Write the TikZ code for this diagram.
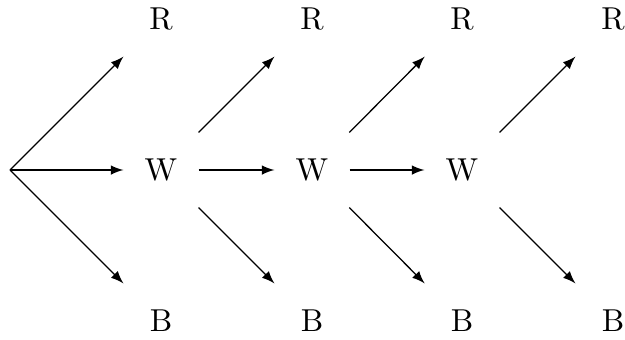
\documentclass[tikz,border=0pt]{standalone}
\begin{document}
\begin{tikzpicture}[x=0.3155pt,y=-0.3155pt,
  lbl/.style={rectangle,minimum size=23.7pt,inner sep=0pt,outer sep=0pt},
  conn/.style={-latex,line width=0.4pt}]
\useasboundingbox (0,0) rectangle (625,339);
\coordinate (S) at (10,170);
\node[lbl] (R1) at (161,19) {R};
\node[lbl] (W1) at (161,170) {W};
\node[lbl] (B1) at (161,321) {B};
\node[lbl] (R2) at (312,19) {R};
\node[lbl] (W2) at (312,170) {W};
\node[lbl] (B2) at (312,321) {B};
\node[lbl] (R3) at (462,19) {R};
\node[lbl] (W3) at (462,170) {W};
\node[lbl] (B3) at (462,321) {B};
\node[lbl] (R4) at (613,19) {R};
\node[lbl] (B4) at (613,321) {B};
\draw[conn] (S) -- (R1);
\draw[conn] (S) -- (W1);
\draw[conn] (S) -- (B1);
\draw[conn] (W1) -- (R2);
\draw[conn] (W1) -- (W2);
\draw[conn] (W1) -- (B2);
\draw[conn] (W2) -- (R3);
\draw[conn] (W2) -- (W3);
\draw[conn] (W2) -- (B3);
\draw[conn] (W3) -- (R4);
\draw[conn] (W3) -- (B4);
\end{tikzpicture}
\end{document}
